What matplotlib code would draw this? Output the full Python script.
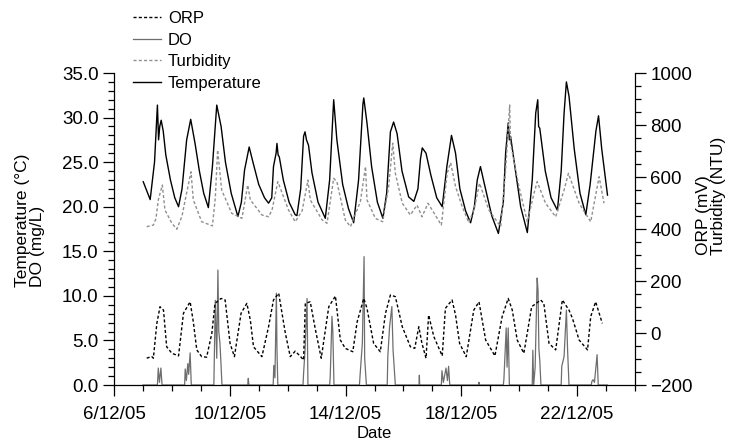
import matplotlib
matplotlib.use("Agg")
import matplotlib.pyplot as plt
import matplotlib.dates as mdates
from matplotlib.lines import Line2D
from matplotlib.ticker import MultipleLocator, FormatStrFormatter
import numpy as np
from datetime import datetime

# days since 6/12/05 00:00
temp_t = [1.01, 1.25, 1.40, 1.50, 1.54, 1.58, 1.63, 1.70, 1.79, 1.95, 2.10, 2.23,
          2.35, 2.51, 2.65, 2.80, 2.95, 3.10, 3.26, 3.40, 3.55, 3.70, 3.85, 4.05,
          4.28, 4.40, 4.51, 4.67, 4.80, 5.00, 5.20, 5.34, 5.45, 5.51, 5.60, 5.63,
          5.67, 5.71, 5.85, 6.05, 6.26, 6.32, 6.45, 6.55, 6.60, 6.65, 6.72, 6.84,
          7.05, 7.30, 7.45, 7.59, 7.70, 7.90, 8.10, 8.28, 8.45, 8.60, 8.63, 8.74,
          8.90, 9.10, 9.29, 9.42, 9.55, 9.66, 9.78, 9.95, 10.18, 10.36, 10.50, 10.59,
          10.65, 10.78, 10.95, 11.15, 11.34, 11.50, 11.66, 11.80, 11.95, 12.15, 12.32,
          12.45, 12.55, 12.66, 12.80, 13.05, 13.28, 13.45, 13.53, 13.62, 13.66, 13.70,
          13.85, 14.05, 14.28, 14.45, 14.57, 14.64, 14.67, 14.71, 14.90, 15.10, 15.32,
          15.45, 15.55, 15.63, 15.72, 15.90, 16.10, 16.30, 16.45, 16.65, 16.74, 16.85,
          17.05]
temp_v = [22.8, 20.8, 25.0, 31.4, 27.5, 29.0, 29.7, 28.5, 25.8, 23.0, 21.0, 20.0,
          22.0, 27.5, 29.8, 27.1, 24.0, 21.5, 19.9, 24.5, 31.4, 29.0, 25.0, 21.5,
          18.9, 20.5, 24.1, 26.7, 25.0, 22.5, 21.0, 20.4, 21.0, 24.5, 26.0, 27.1,
          25.8, 25.6, 23.0, 20.5, 19.1, 19.0, 22.0, 27.9, 28.4, 27.5, 26.9, 23.8,
          20.5, 18.7, 23.0, 32.0, 27.5, 22.5, 19.8, 18.2, 23.0, 31.5, 32.2, 29.4,
          24.5, 20.5, 18.7, 21.5, 28.4, 29.5, 28.2, 24.0, 21.1, 20.6, 22.0, 25.4,
          26.6, 26.0, 23.5, 21.0, 20.0, 24.5, 28.0, 26.0, 22.0, 19.5, 18.2,
          20.0, 23.0, 24.5, 22.5, 19.0, 17.0, 20.5, 26.0, 29.4, 27.5, 27.9,
          24.5, 20.0, 17.1, 23.0, 30.5, 32.0, 29.0, 28.8, 24.0, 21.0, 19.6,
          24.0, 30.5, 34.0, 32.4, 26.5, 21.5, 19.1, 22.5, 28.5, 30.2, 26.5,
          21.3]

turb_t = [1.13, 1.36, 1.45, 1.53, 1.67, 1.76, 2.00, 2.17, 2.35, 2.46, 2.66, 2.74,
          3.03, 3.40, 3.50, 3.58, 3.72, 4.07, 4.42, 4.62, 4.71, 5.11, 5.34, 5.46,
          5.66, 6.03, 6.26, 6.50, 6.70, 6.78, 7.19, 7.36, 7.53, 7.59, 7.70, 7.99,
          8.17, 8.51, 8.69, 8.74, 9.03, 9.28, 9.49, 9.63, 9.72, 9.96, 10.24, 10.47,
          10.64, 10.85, 11.31, 11.51, 11.63, 11.80, 12.03, 12.26, 12.45, 12.63, 12.95,
          13.36, 13.53, 13.67, 13.70, 13.99, 14.28, 14.51, 14.62, 14.91, 15.26, 15.55,
          15.70, 16.07, 16.40, 16.47, 16.76, 16.93]
turb_v = [409, 415, 440, 512, 569, 473, 422, 399, 450, 512, 620, 512,
          428, 412, 520, 704, 550, 460, 441, 569, 512, 454, 447, 473,
          582, 473, 428, 470, 588, 512, 435, 422, 550, 595, 582, 435,
          409, 505, 640, 512, 441, 428, 563, 730, 614, 499, 454, 492,
          447, 499, 415, 614, 655, 563, 486, 424, 480, 576, 473,
          409, 627, 877, 730, 563, 428, 537, 582, 499, 447, 550,
          614, 499, 440, 428, 601, 499]

orp_t = [1.13, 1.30, 1.36, 1.48, 1.59, 1.71, 1.82, 2.00, 2.23, 2.40, 2.63, 2.74,
         2.86, 3.03, 3.20, 3.38, 3.49, 3.70, 3.84, 4.01, 4.16, 4.39, 4.59, 4.71,
         4.82, 5.11, 5.34, 5.51, 5.69, 5.92, 6.09, 6.26, 6.44, 6.55, 6.61, 6.78,
         6.96, 7.16, 7.42, 7.65, 7.82, 7.99, 8.25, 8.40, 8.63, 8.74, 8.97, 9.20,
         9.38, 9.55, 9.72, 9.96, 10.24, 10.39, 10.53, 10.64, 10.78, 10.87, 11.05,
         11.34, 11.45, 11.68, 11.80, 11.94, 12.17, 12.43, 12.61, 12.84, 13.16, 13.41,
         13.62, 13.76, 13.93, 14.16, 14.43, 14.74, 14.85, 15.03, 15.26, 15.49, 15.72,
         15.84, 16.07, 16.36, 16.47, 16.64, 16.87]
orp_v = [-97, -90, -97, 37, 101, 88, -53, -78, -88, 76, 120, 43,
         -65, -91, -93, -1, 114, 133, 127, -40, -91, 76, 114, 50,
         -53, -91, 24, 127, 153, -1, -91, -70, -90, -104, 114, 120,
         12, -97, 101, 142, -27, -59, -72, 43, 133, 95, -40, -72,
         76, 146, 140, 24, -53, -59, 24, -40, -97, 69, -14,
         -88, 95, 127, 69, -40, -91, 88, 120, -27, -88, 63,
         133, 88, -27, -78, 101, 127, 114, -40, -65, 127, 88,
         56, -27, -65, 63, 120, 37]

do_t = [1.00, 1.50, 1.53, 1.57, 1.62, 1.66, 2.44, 2.46, 2.50, 2.55, 2.58, 2.63, 2.67,
        3.45, 3.50, 3.55, 3.59, 3.62, 3.66, 3.69, 3.73, 4.62, 4.64, 4.66,
        5.50, 5.52, 5.56, 5.61, 5.63, 5.66, 6.53, 6.55, 6.60, 6.67, 6.70,
        7.45, 7.47, 7.53, 7.56, 7.60, 8.48, 8.50, 8.58, 8.64, 8.66, 8.72,
        9.44, 9.46, 9.52, 9.60, 9.64, 9.72, 10.54, 10.55, 10.56,
        11.31, 11.33, 11.38, 11.47, 11.52, 11.56, 11.60, 12.60, 12.61, 12.62,
        13.45, 13.47, 13.55, 13.58, 13.62, 13.66, 14.45, 14.47, 14.50, 14.55, 14.62,
        14.65, 14.68, 14.71, 14.75, 15.45, 15.47, 15.55, 15.63, 15.67, 15.72,
        16.49, 16.51, 16.55, 16.60, 16.69, 16.73, 17.05]
do_v = [0, 0, 1.9, 0.3, 1.9, 0, 0, 1.8, 0.5, 2.4, 1.2, 3.6, 0,
        0, 9.5, 3.0, 12.9, 6.0, 4.7, 2.8, 0, 0, 0.75, 0,
        0, 2.2, 0.8, 10.3, 4.0, 0, 0, 1.3, 3.9, 9.7, 0,
        0, 0.9, 7.7, 6.0, 0, 0, 1.0, 4.7, 14.4, 3.0, 0,
        0, 3.2, 6.5, 8.8, 4.0, 0, 0, 1.1, 0,
        0, 1.6, 0.3, 1.9, 0.5, 2.1, 0, 0, 0.3, 0,
        0, 0.6, 6.4, 2.0, 6.4, 0, 0, 3.9, 0, 2.0, 12.0,
        10.6, 4.0, 2.8, 0, 0, 2.1, 3.2, 8.4, 4.0, 0,
        0, 0.4, 0.6, 0.3, 3.4, 0, 0]

start = datetime(2005, 12, 6)
end = datetime(2005, 12, 24)
base = mdates.date2num(start)

plt.rcParams["font.family"] = ["Liberation Sans", "DejaVu Sans"]

fig = plt.figure(figsize=(7.31, 4.41), dpi=100)
ax = fig.add_axes([114 / 731, 1 - 385 / 441, (635 - 114) / 731, (385 - 73) / 441])
ax2 = ax.twinx()

orp_style = dict(color="black", lw=1.0, ls=(0, (2.2, 1.6)))
do_style = dict(color="#6e6e6e", lw=0.9, ls="-")
turb_style = dict(color="#8f8f8f", lw=1.0, ls=(0, (2.2, 1.6)))
temp_style = dict(color="black", lw=1.0, ls="-")

ax.plot(base + np.array(do_t), do_v, **do_style)
ax.plot(base + np.array(temp_t), temp_v, **temp_style, zorder=3)
ax2.plot(base + np.array(turb_t), turb_v, **turb_style)
ax2.plot(base + np.array(orp_t), orp_v, **orp_style)

ax.set_xlim(start, end)
ax.set_ylim(0, 35)
ax2.set_ylim(-200, 1000)

ax.xaxis.set_major_locator(mdates.DayLocator(bymonthday=[6, 10, 14, 18, 22]))
ax.xaxis.set_minor_locator(mdates.DayLocator())
ax.xaxis.set_major_formatter(mdates.DateFormatter("%-d/%m/%y"))
ax.yaxis.set_major_locator(MultipleLocator(5))
ax.yaxis.set_minor_locator(MultipleLocator(1))
ax.yaxis.set_major_formatter(FormatStrFormatter("%.1f"))
ax2.yaxis.set_major_locator(MultipleLocator(200))
ax2.yaxis.set_minor_locator(MultipleLocator(50))

for a in (ax, ax2):
    a.spines["top"].set_visible(False)
    for s in a.spines.values():
        s.set_linewidth(0.9)
    a.tick_params(which="major", direction="out", length=8, width=0.9, labelsize=13.5, pad=3)
    a.tick_params(which="minor", direction="out", length=4.5, width=0.9)
ax.tick_params(axis="x", which="major", pad=7)
ax.spines["right"].set_visible(False)
ax2.spines["left"].set_visible(False)
ax2.spines["bottom"].set_visible(False)

ax.set_xlabel("Date", fontsize=12, labelpad=2)
fig.text(30 / 731, 1 - 220 / 441, "Temperature (°C)\nDO (mg/L)", rotation=90,
         ha="center", va="center", multialignment="left", fontsize=12.5, linespacing=1.0)
fig.text(711 / 731, 1 - 196 / 441, "ORP (mV)\nTurbidity (NTU)", rotation=90,
         ha="center", va="center", multialignment="left", fontsize=12.5, linespacing=1.0)

handles = [Line2D([], [], **orp_style), Line2D([], [], **do_style),
           Line2D([], [], **turb_style), Line2D([], [], **temp_style)]
fig.legend(handles, ["ORP", "DO", "Turbidity", "Temperature"], loc="upper left",
           bbox_to_anchor=(133 / 731, 1 - 11 / 441), frameon=False, fontsize=12,
           handlelength=1.7, handletextpad=0.4, labelspacing=0.4,
           borderpad=0, borderaxespad=0)

fig.savefig("out.png", dpi=100)
